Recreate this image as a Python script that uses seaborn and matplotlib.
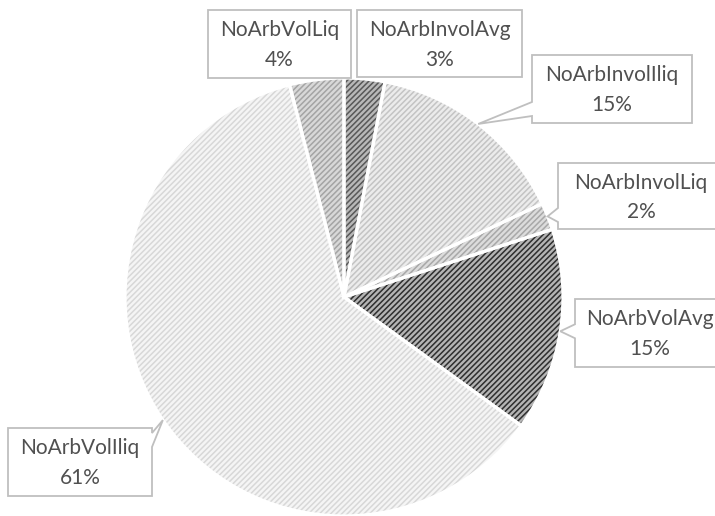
import matplotlib
matplotlib.use("Agg")
import matplotlib.pyplot as plt
from matplotlib.patches import Polygon
import numpy as np
import seaborn as sns

# Portfolio composition by category (share of total, %)
categories = ["NoArbInvolAvg", "NoArbInvolIliq", "NoArbInvolLiq",
              "NoArbVolAvg", "NoArbVolIliq", "NoArbVolLiq"]
shares = [3, 15, 2, 15, 61, 4]
pct_labels = ["3%", "15%", "2%", "15%", "61%", "4%"]

# Pattern fills: base colour and stripe colour per slice
face_colors = ["#b8b8b8", "#ececec", "#dcdcdc", "#b4b4b4", "#f5f5f5", "#d8d8d8"]
hatch_colors = ["#585858", "#c4c4c4", "#a8a8a8", "#2e2e2e", "#d8d8d8", "#a4a4a4"]

W, H = 715, 516
sns.set_theme(style="white")
plt.rcParams["font.family"] = ["Lato", "DejaVu Sans"]
plt.rcParams["hatch.linewidth"] = 1.1

fig = plt.figure(figsize=(W / 100, H / 100), dpi=100)
ax = fig.add_axes([0, 0, 1, 1])

cx, cy, r = 344, H - 297, 219

wedges, _ = ax.pie(shares, startangle=90, counterclock=False, colors=face_colors,
                   center=(cx, cy), radius=r, wedgeprops=dict(linewidth=0))
for w, hc in zip(wedges, hatch_colors):
    w.set_edgecolor(hc)
    w.set_hatch("//////")
    w.set_linewidth(0)

# white separators between slices
ax.pie(shares, startangle=90, counterclock=False, colors=["none"] * len(shares),
       center=(cx, cy), radius=r,
       wedgeprops=dict(linewidth=2.3, edgecolor="white", fill=False))

ax.set_xlim(0, W)
ax.set_ylim(0, H)
ax.axis("off")

# callout boxes (left, top, right, bottom in pixels from top-left) and pointer side
callouts = {
    "NoArbInvolAvg": ((357, 10, 522, 77), None),
    "NoArbInvolIliq": ((532, 55, 692, 123), "left"),
    "NoArbInvolLiq": ((558, 163, 724, 229), "left"),
    "NoArbVolAvg": ((575, 299, 724, 367), "left"),
    "NoArbVolIliq": ((8, 428, 152, 496), "right"),
    "NoArbVolLiq": ((208, 10, 351, 78), None),
}

text_color = "#505050"
box_edge = "#bfbfbf"

for w, name, pct in zip(wedges, categories, pct_labels):
    (x0, y0, x1, y1), side = callouts[name]
    mid = np.deg2rad((w.theta1 + w.theta2) / 2)
    tx, ty = cx + r * np.cos(mid), cy + r * np.sin(mid)
    ty_px = H - ty
    bc = min(max(ty_px, y0 + 12), y1 - 14)
    b0, b1 = bc - 7, bc + 7
    if side == "left":
        pts = [(x0, y0), (x1, y0), (x1, y1), (x0, y1), (x0, b1), (tx, ty_px), (x0, b0)]
    elif side == "right":
        pts = [(x0, y0), (x1, y0), (x1, b0), (tx, ty_px), (x1, b1), (x1, y1), (x0, y1)]
    else:
        pts = [(x0, y0), (x1, y0), (x1, y1), (x0, y1)]
    pts = [(px, H - py) for px, py in pts]
    ax.add_patch(Polygon(pts, closed=True, facecolor="white", edgecolor=box_edge,
                         linewidth=1.3, zorder=5))
    xc = (x0 + x1) / 2
    h = y1 - y0
    ax.text(xc, H - (y0 + 0.30 * h), name, ha="center", va="center",
            fontsize=15, color=text_color, zorder=6)
    ax.text(xc, H - (y0 + 0.74 * h), pct, ha="center", va="center",
            fontsize=15, color=text_color, zorder=6)

fig.savefig("out.png", dpi=100)
